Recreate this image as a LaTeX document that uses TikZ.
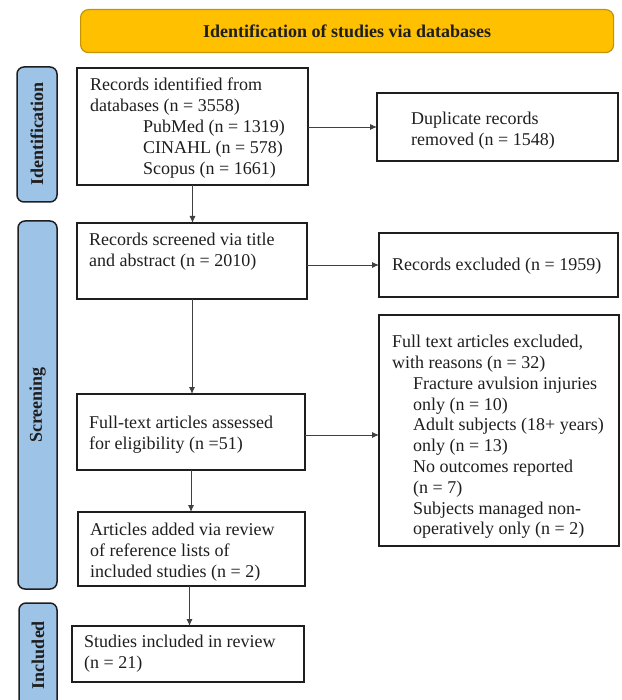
\documentclass[tikz,border=0pt]{standalone}
\usepackage{fontspec}
\setmainfont{Liberation Serif}
\usetikzlibrary{arrows.meta,calc}
\definecolor{barblue}{HTML}{9DC3E6}
\definecolor{gold}{HTML}{FFC000}
\definecolor{golddark}{HTML}{C39400}
\definecolor{ink}{HTML}{1E1E1E}
\tikzset{
  box/.style={draw=ink, line width=1.3pt, rectangle, inner sep=0pt, outer sep=0pt, anchor=north west},
  txt/.style={anchor=north west, inner sep=0pt, align=left, text=ink, font=\fontsize{18}{20.8}\selectfont},
  phase/.style={draw=ink, line width=1.5pt, fill=barblue, rounded corners=7pt},
  phaselabel/.style={rotate=90, font=\fontsize{18}{20}\selectfont\bfseries, text=ink, inner sep=0pt},
  arr/.style={draw=ink!85, line width=0.9pt, -{Latex[length=7pt,width=6pt]}},
}
\begin{document}
\begin{tikzpicture}[x=1pt,y=-1pt]
\useasboundingbox (0,0) rectangle (621,700);
\clip (0,0) rectangle (621,700);

% header
\node[draw=golddark, line width=1.2pt, fill=gold, rounded corners=8pt, anchor=north west,
      minimum width=533pt, minimum height=43pt, inner sep=0pt,
      font=\fontsize{18}{20}\selectfont\bfseries, text=ink] (head) at (80,9)
      {Identification of studies via databases};

% phase bars
\draw[phase] (17,67) rectangle (57,202);
\node[phaselabel] (lid) at (37,134) {Identification};
\draw[phase] (18,221) rectangle (57,589);
\node[phaselabel] (lsc) at (37.5,405) {Screening};
\draw[phase] (19,603) rectangle (57,708);
\node[phaselabel] (lin) at (38,655) {Included};

% boxes
\node[box, minimum width=231pt, minimum height=117pt] (b1) at (77,68) {};
\node[txt] (t1) at (90,78) {Records identified from\\databases (n = 3558)\\
\hspace*{53pt}PubMed (n = 1319)\\\hspace*{53pt}CINAHL (n = 578)\\\hspace*{53pt}Scopus (n = 1661)};

\node[box, minimum width=241pt, minimum height=68pt] (dup) at (377,93) {};
\node[txt] (tdup) at (411,112) {Duplicate records\\removed (n = 1548)};

\node[box, minimum width=230pt, minimum height=76pt] (scr) at (77,223) {};
\node[txt] (tscr) at (89,233) {Records screened via title\\and abstract (n = 2010)};

\node[box, minimum width=239pt, minimum height=64pt] (exc) at (379,233) {};
\node[txt] (texc) at (392,258) {Records excluded (n = 1959)};

\node[box, minimum width=228pt, minimum height=76pt] (ft) at (77,394) {};
\node[txt] (tft) at (89,416) {Full-text articles assessed\\for eligibility (n =51)};

\node[box, minimum width=240pt, minimum height=231pt] (ftx) at (379,315) {};
\node[txt] (tftx) at (392,335) {Full text articles excluded,\\with reasons (n = 32)\\
\hspace*{21pt}Fracture avulsion injuries\\\hspace*{21pt}only (n = 10)\\
\hspace*{21pt}Adult subjects (18+ years)\\\hspace*{21pt}only (n = 13)\\
\hspace*{21pt}No outcomes reported\\\hspace*{21pt}(n = 7)\\
\hspace*{21pt}Subjects managed non-\\\hspace*{21pt}operatively only (n = 2)};

\node[box, minimum width=227pt, minimum height=74pt] (add) at (78,512) {};
\node[txt] (tadd) at (90,523) {Articles added via review\\of reference lists of\\included studies (n = 2)};

\node[box, minimum width=232pt, minimum height=56pt] (inc) at (72,626) {};
\node[txt] (tinc) at (84,635) {Studies included in review\\(n = 21)};

% connectors
\draw[arr] (b1.south) -- (b1.south |- scr.north);
\draw[arr] (dup.west -| b1.east) -- (dup.west);
\draw[arr] ([yshift=-4pt]scr.east) -- ([yshift=-4pt]scr.east -| exc.west);
\draw[arr] (scr.south) -- (scr.south |- ft.north);
\draw[arr] ([yshift=-3pt]ft.east) -- ([yshift=-3pt]ft.east -| ftx.west);
\draw[arr] (ft.south) -- (ft.south |- add.north);
\draw[arr] ([xshift=-2pt]add.south) -- ([xshift=-2pt]add.south |- inc.north);
\end{tikzpicture}
\end{document}
